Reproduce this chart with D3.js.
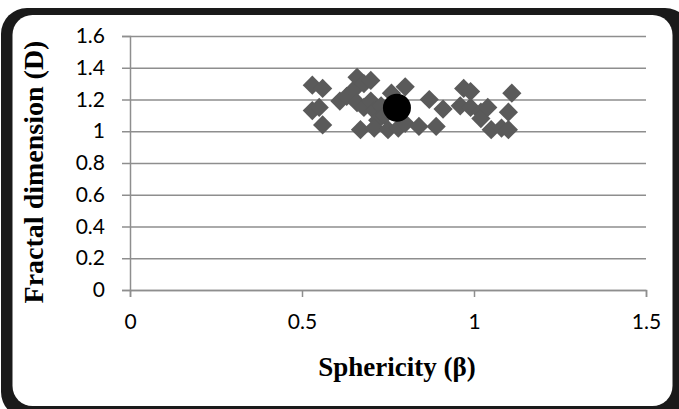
<!DOCTYPE html>
<html>
<head>
<meta charset="utf-8">
<script src="https://cdn.jsdelivr.net/npm/d3@7"></script>
<style>
  html, body { margin: 0; padding: 0; background: #fff; }
  svg { display: block; }
</style>
</head>
<body>
<script>
// Sphericity (x) and fractal dimension (y) of each sample
const sphericity = [0.53, 0.56, 0.53, 0.55, 0.56, 0.61, 0.63, 0.65, 0.66, 0.68,
                    0.70, 0.66, 0.68, 0.70, 0.71, 0.73, 0.72, 0.74, 0.67, 0.71,
                    0.75, 0.78, 0.76, 0.80, 0.80, 0.84, 0.87, 0.89, 0.91, 0.96,
                    0.97, 0.99, 0.99, 1.02, 1.02, 1.04, 1.05, 1.08, 1.10, 1.10, 1.11];
const fractal    = [1.29, 1.27, 1.13, 1.15, 1.04, 1.19, 1.22, 1.26, 1.34, 1.30,
                    1.32, 1.18, 1.15, 1.19, 1.13, 1.16, 1.07, 1.10, 1.01, 1.02,
                    1.01, 1.02, 1.24, 1.28, 1.05, 1.03, 1.20, 1.03, 1.14, 1.16,
                    1.27, 1.25, 1.15, 1.12, 1.08, 1.15, 1.01, 1.02, 1.01, 1.12, 1.24];
// Mean point (black circle)
const meanPoint = [0.776, 1.148];

const xTicks = [0, 0.5, 1, 1.5];
const yTicks = [0, 0.2, 0.4, 0.6, 0.8, 1, 1.2, 1.4, 1.6];

const width = 679, height = 409;
const svg = d3.select('body')
    .append('svg')
    .attr('width', width)
    .attr('height', height);

// Rounded frame
svg.append('rect')
    .attr('x', 1).attr('y', 8)
    .attr('width', 690).attr('height', 410)
    .attr('rx', 26)
    .attr('fill', '#1a1a1a');
svg.append('rect')
    .attr('x', 12.5).attr('y', 15)
    .attr('width', 660).attr('height', 391)
    .attr('rx', 20)
    .attr('fill', '#fff');

const x = d3.scaleLinear().domain([0, 1.5]).range([130, 646]);
const y = d3.scaleLinear().domain([0, 1.6]).range([290, 36]);

const gridColor = '#8e8e8e';
const tickFont = 'Lato, "Open Sans", sans-serif';

// Horizontal grid lines with small ticks on the left
svg.append('g')
    .attr('transform', `translate(${x(0)},0)`)
    .call(d3.axisLeft(y).tickValues(yTicks).tickSize(8).tickFormat(d3.format('')))
    .call(g => g.select('.domain').attr('stroke', gridColor).attr('stroke-width', 1.5))
    .call(g => g.selectAll('.tick line').attr('stroke', gridColor).attr('stroke-width', 1.5))
    .call(g => g.selectAll('.tick').append('line')
        .attr('x1', 0).attr('x2', x(1.5) - x(0))
        .attr('stroke', gridColor).attr('stroke-width', 1.5))
    .call(g => g.selectAll('.tick text')
        .attr('x', -25)
        .attr('fill', '#000')
        .attr('font-family', tickFont)
        .attr('font-size', 21));

// Bottom axis
svg.append('g')
    .attr('transform', `translate(0,${y(0)})`)
    .call(d3.axisBottom(x).tickValues(xTicks).tickSize(7).tickFormat(d3.format('')))
    .call(g => g.select('.domain').attr('stroke', gridColor).attr('stroke-width', 1.5))
    .call(g => g.selectAll('.tick line').attr('stroke', gridColor).attr('stroke-width', 1.5))
    .call(g => g.selectAll('.tick text')
        .attr('y', 24)
        .attr('fill', '#000')
        .attr('font-family', tickFont)
        .attr('font-size', 21));

// Diamond markers
const points = sphericity.map((s, i) => ({s: s, d: fractal[i]}));
svg.append('g')
    .selectAll('path')
    .data(points)
    .join('path')
    .attr('d', d3.symbol().type(d3.symbolSquare).size(185))
    .attr('transform', d => `translate(${x(d.s)},${y(d.d)}) rotate(45)`)
    .attr('fill', '#5a5a5a');

// Mean marker
svg.append('circle')
    .attr('cx', x(meanPoint[0]))
    .attr('cy', y(meanPoint[1]))
    .attr('r', 14)
    .attr('fill', '#000');

// Axis titles
svg.append('text')
    .attr('x', 397)
    .attr('y', 376)
    .attr('text-anchor', 'middle')
    .attr('font-family', '"Liberation Serif", "Times New Roman", serif')
    .attr('font-weight', 'bold')
    .attr('font-size', 27)
    .text('Sphericity (β)');

svg.append('text')
    .attr('transform', 'translate(43,172) rotate(-90)')
    .attr('text-anchor', 'middle')
    .attr('font-family', '"Liberation Serif", "Times New Roman", serif')
    .attr('font-weight', 'bold')
    .attr('font-size', 28)
    .text('Fractal dimension (D)');
</script>
</body>
</html>
